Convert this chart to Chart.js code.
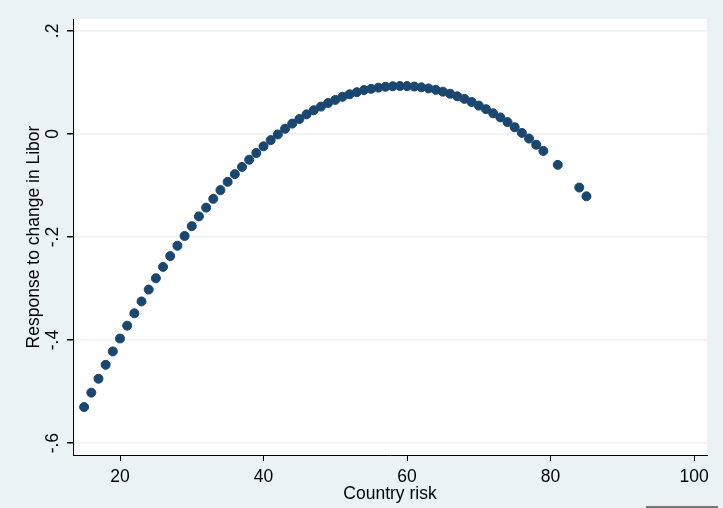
<!DOCTYPE html>
<html lang="en">
<head>
  <meta charset="UTF-8">
  <title>Response to change in Libor</title>
  <script src="https://cdn.jsdelivr.net/npm/chart.js"></script>
  <style>
    html, body { margin: 0; padding: 0; background: #eaf2f3; }
    #wrap { width: 723px; height: 508px; }
  </style>
</head>
<body>

  <div id="wrap">
    <canvas id="riskChart" width="723" height="508"></canvas>
  </div>

  <script>
    // country risk values (x) and estimated response (y)
    const countryRisk = [15, 16, 17, 18, 19, 20, 21, 22, 23, 24, 25, 26, 27, 28, 29, 30,
      31, 32, 33, 34, 35, 36, 37, 38, 39, 40, 41, 42, 43, 44, 45, 46, 47, 48, 49, 50,
      51, 52, 53, 54, 55, 56, 57, 58, 59, 60, 61, 62, 63, 64, 65, 66, 67, 68, 69, 70,
      71, 72, 73, 74, 75, 76, 77, 78, 79, 81, 84, 85];
    const response = [-0.530, -0.502, -0.475, -0.448, -0.422, -0.397, -0.372, -0.348,
      -0.325, -0.302, -0.280, -0.258, -0.237, -0.217, -0.198, -0.179,
      -0.160, -0.143, -0.126, -0.109, -0.093, -0.078, -0.064, -0.050, -0.037, -0.024,
      -0.012, -0.001, 0.010, 0.020, 0.029, 0.038, 0.046, 0.053, 0.060, 0.066,
      0.072, 0.077, 0.081, 0.085, 0.0875, 0.0898, 0.0915, 0.0926, 0.093, 0.0928,
      0.0919, 0.0904, 0.0883, 0.0855, 0.082, 0.078, 0.073, 0.068, 0.062, 0.055,
      0.048, 0.040, 0.032, 0.023, 0.013, 0.002, -0.009, -0.021, -0.033,
      -0.060, -0.104, -0.121];

    const xTicks = [20, 40, 60, 80, 100];
    const yTicks = [-0.6, -0.4, -0.2, 0, 0.2];
    const yTickLabels = ['-.6', '-.4', '-.2', '0', '.2'];

    const points = countryRisk.map((x, i) => ({ x: x, y: response[i] }));

    const bgColor = '#eaf2f3';
    const navy = '#1a476f';
    const font = 'Liberation Sans, Arial, sans-serif';
    const fontSize = 17.5;

    // light background outside the plot region, white inside
    const backdrop = {
      id: 'backdrop',
      beforeDraw(chart) {
        const { ctx, chartArea: a } = chart;
        ctx.save();
        ctx.fillStyle = bgColor;
        ctx.fillRect(0, 0, chart.width, chart.height);
        ctx.fillStyle = '#ffffff';
        ctx.fillRect(a.left, a.top, a.right - a.left, a.bottom - a.top);
        // small grey bar in the bottom right corner
        ctx.fillStyle = '#777777';
        ctx.fillRect(646, 506, 72, 2);
        ctx.restore();
      },
      afterDraw(chart) {
        // y tick labels are written sideways, like the original
        const { ctx } = chart;
        const ys = chart.scales.y;
        ctx.save();
        ctx.fillStyle = '#000';
        ctx.font = fontSize + 'px ' + font;
        ctx.textAlign = 'center';
        ctx.textBaseline = 'alphabetic';
        yTicks.forEach((v, i) => {
          const py = ys.getPixelForValue(v);
          ctx.save();
          ctx.translate(58, py);
          ctx.rotate(-Math.PI / 2);
          ctx.fillText(yTickLabels[i], 0, 0);
          ctx.restore();
        });
        ctx.restore();
      }
    };

    const config = {
      type: 'scatter',
      data: {
        datasets: [{
          data: points,
          backgroundColor: navy,
          borderColor: navy,
          borderWidth: 1,
          pointRadius: 4.5,
          pointHoverRadius: 4.5
        }]
      },
      options: {
        responsive: false,
        animation: false,
        events: [],
        layout: { padding: { top: 19, right: 16, left: 0, bottom: 0 } },
        plugins: {
          legend: { display: false },
          tooltip: { enabled: false }
        },
        scales: {
          x: {
            type: 'linear',
            min: 13.45,
            max: 101.8,
            afterBuildTicks: (scale) => { scale.ticks = xTicks.map(v => ({ value: v })); },
            afterFit: (scale) => { scale.height = 53; },
            grid: {
              drawOnChartArea: false,
              drawTicks: true,
              tickLength: 6,
              tickColor: '#000'
            },
            border: { display: true, color: '#000', width: 1 },
            ticks: {
              color: '#000',
              font: { family: font, size: fontSize },
              padding: 6,
              maxRotation: 0,
              callback: (v) => String(v)
            },
            title: {
              display: true,
              text: 'Country risk',
              color: '#000',
              font: { family: font, size: fontSize },
              padding: { top: 0, bottom: 3 }
            }
          },
          y: {
            type: 'linear',
            min: -0.623,
            max: 0.223,
            afterBuildTicks: (scale) => { scale.ticks = yTicks.map(v => ({ value: v })); },
            afterFit: (scale) => { scale.width = 73; },
            grid: {
              color: bgColor,
              lineWidth: 1.5,
              drawTicks: true,
              tickLength: 6,
              tickColor: '#000'
            },
            border: { display: true, color: '#000', width: 1 },
            ticks: { display: false },
            title: {
              display: true,
              text: 'Response to change in Libor',
              color: '#000',
              font: { family: font, size: fontSize },
              padding: { top: 24, bottom: 0 }
            }
          }
        }
      },
      plugins: [backdrop]
    };

    const ctx = document.getElementById('riskChart').getContext('2d');
    new Chart(ctx, config);
  </script>

</body>
</html>
